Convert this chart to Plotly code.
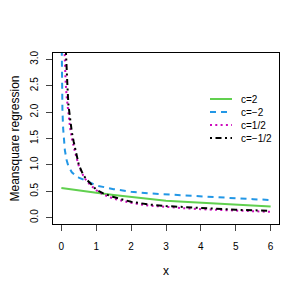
import plotly.graph_objects as go

# c = 2 (green, solid)
x_c2 = [0.0, 0.5, 1.0, 1.5, 2.0, 2.5, 3.0, 3.5, 4.0, 4.5, 5.0, 5.5, 6.0]
y_c2 = [0.56, 0.51, 0.47, 0.43, 0.39, 0.36, 0.32, 0.30, 0.28, 0.26, 0.24, 0.225, 0.21]

# c = -2 (blue, dashed)
x_cm2 = [0.005, 0.01, 0.02, 0.03, 0.05, 0.07, 0.1, 0.15, 0.2, 0.3, 0.4, 0.5, 0.7,
         1.0, 1.5, 2.0, 2.5, 3.0, 3.5, 4.0, 4.5, 5.0, 5.5, 6.0]
y_cm2 = [3.6, 3.0, 2.4, 2.05, 1.7, 1.47, 1.28, 1.09, 0.98, 0.86, 0.80, 0.76, 0.70,
         0.61, 0.54, 0.49, 0.46, 0.44, 0.42, 0.40, 0.38, 0.36, 0.35, 0.335]

# c = 1/2 (magenta, dotted)
x_ch = [0.08, 0.09, 0.1, 0.12, 0.15, 0.2, 0.25, 0.3, 0.35, 0.4, 0.5, 0.6, 0.7, 0.8,
        1.0, 1.2, 1.5, 2.0, 2.5, 3.0, 3.5, 4.0, 4.5, 5.0, 5.5, 6.0]
y_ch = [3.4, 3.12, 2.9, 2.6, 2.3, 1.95, 1.7, 1.5, 1.35, 1.22, 0.98, 0.83, 0.72, 0.64,
        0.52, 0.44, 0.36, 0.28, 0.23, 0.20, 0.18, 0.16, 0.145, 0.13, 0.12, 0.11]

# c = -1/2 (black, dot-dash)
x_cmh = [0.12, 0.13, 0.15, 0.17, 0.2, 0.25, 0.3, 0.35, 0.4, 0.5, 0.6, 0.7, 0.8,
         1.0, 1.2, 1.5, 2.0, 2.5, 3.0, 3.5, 4.0, 4.5, 5.0, 5.5, 6.0]
y_cmh = [3.3, 3.1, 2.8, 2.55, 2.15, 1.85, 1.62, 1.45, 1.28, 1.0, 0.85, 0.74, 0.67,
         0.53, 0.46, 0.39, 0.30, 0.25, 0.22, 0.20, 0.18, 0.16, 0.15, 0.14, 0.13]

x_ticks = [0, 1, 2, 3, 4, 5, 6]
y_ticks = [0.0, 0.5, 1.0, 1.5, 2.0, 2.5, 3.0]

series_names = ["c=2", "c=\u22122", "c=1/2", "c=\u22121/2"]
series_colors = ["#61D04F", "#2297E6", "#CD0BBC", "black"]
series_dashes = ["solid", "6px,5px", "2px,3.3px", "2px,3.5px,6px,3.5px"]

FONT = "Liberation Sans, Arial, sans-serif"
OFF = 8  # page body margin
W, H = 307 - OFF, 291 - OFF
ML, MT = 53 - OFF, 53 - OFF
PW, PH = 226, 171
MR, MB = W - ML - PW, H - MT - PH

fig = go.Figure()
for xs, ys, nm, col, ds in zip([x_c2, x_cm2, x_ch, x_cmh], [y_c2, y_cm2, y_ch, y_cmh],
                               series_names, series_colors, series_dashes):
    fig.add_trace(go.Scatter(x=xs, y=ys, mode="lines", name=nm, showlegend=False,
                             line=dict(color=col, width=2, dash=ds)))

# manual legend (R style) in paper coordinates; positions given in page pixels
def px2x(p):
    return (p - OFF - ML) / PW

def py2y(p):
    return (MT + PH - (p - OFF)) / PH

row_y = [99, 112, 125, 138]
for ry, nm, col, ds in zip(row_y, series_names, series_colors, series_dashes):
    fig.add_shape(type="line", xref="paper", yref="paper",
                  x0=px2x(210), x1=px2x(232), y0=py2y(ry), y1=py2y(ry),
                  line=dict(color=col, width=2, dash=ds))
    fig.add_annotation(xref="paper", yref="paper", x=px2x(239), y=py2y(ry),
                       xanchor="left", yanchor="middle", text=nm, showarrow=False,
                       font=dict(size=10, family=FONT, color="black"))

fig.update_layout(
    width=W, height=H,
    margin=dict(l=ML, r=MR, t=MT, b=MB, autoexpand=False),
    paper_bgcolor="white", plot_bgcolor="white",
    font=dict(family=FONT, size=10, color="black"),
    showlegend=False,
    xaxis=dict(range=[-0.24, 6.24], tickvals=x_ticks, ticks="outside", ticklen=6,
               showline=True, linecolor="black", linewidth=1, mirror=True,
               showgrid=False, zeroline=False, automargin=False,
               ticklabelstandoff=7,
               title=dict(text="x", standoff=15), tickfont=dict(size=10)),
    yaxis=dict(range=[-0.12, 3.12], tickvals=y_ticks, tickformat=".1f",
               ticks="outside", ticklen=6, tickangle=-90,
               showline=True, linecolor="black", linewidth=1, mirror=True,
               showgrid=False, zeroline=False, automargin=False,
               ticklabelstandoff=4,
               title=dict(text="Meansquare regression", standoff=13),
               tickfont=dict(size=10)),
)

fig.write_html("out.html")
